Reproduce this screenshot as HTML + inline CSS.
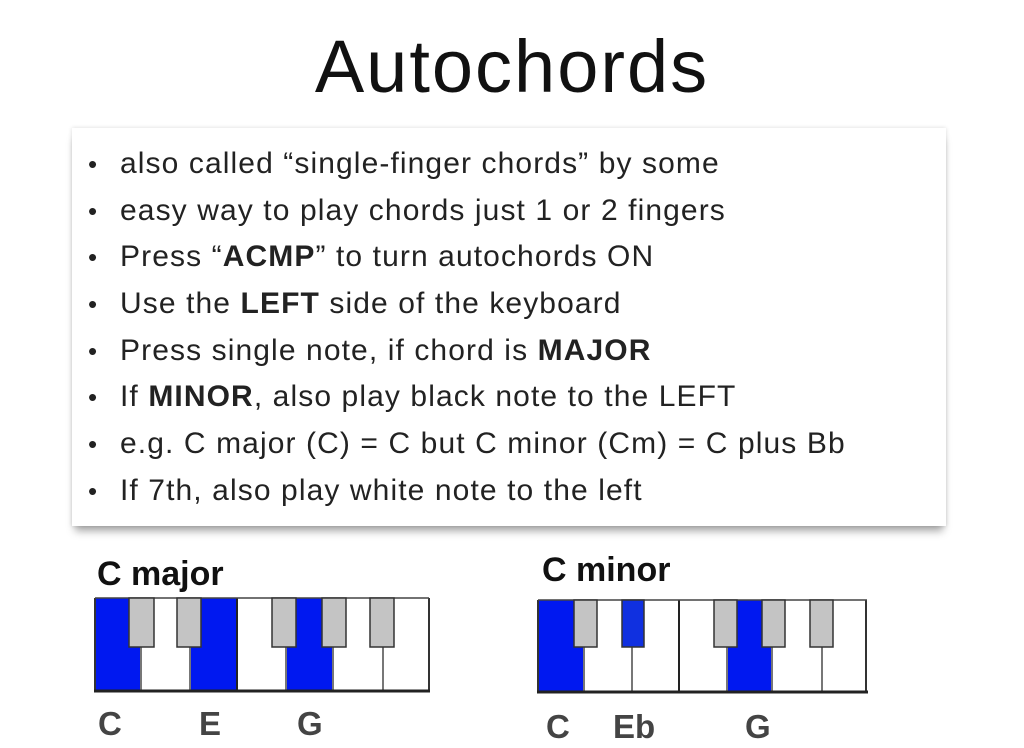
<!DOCTYPE html>
<html><head><meta charset="utf-8"><style>
body{margin:0;width:1024px;height:748px;background:#fff;position:relative;overflow:hidden;font-family:"Liberation Sans",sans-serif}
.title{position:absolute;left:0;width:1024px;top:22px;text-align:center;font-size:74px;letter-spacing:2px;color:#111;line-height:90px}
.box{position:absolute;left:72px;top:128px;width:874px;height:398px;background:#fff;box-shadow:0 8px 8px -3px rgba(0,0,0,0.35),0 0 4px rgba(0,0,0,0.15)}
.li{position:absolute;left:48px;font-size:30px;letter-spacing:1.1px;color:#222;white-space:nowrap;line-height:34px}
.li:before{content:"•";position:absolute;left:-32px;font-size:26px}
svg{position:absolute;left:0;top:0}
</style></head><body>
<div class="title">Autochords</div>
<div class="box">
<div class="li" style="top:19px">also called “single-finger chords” by some</div>
<div class="li" style="top:66px">easy way to play chords just 1 or 2 fingers</div>
<div class="li" style="top:112px">Press “<b>ACMP</b>” to turn autochords ON</div>
<div class="li" style="top:159px">Use the <b>LEFT</b> side of the keyboard</div>
<div class="li" style="top:206px">Press single note, if chord is <b>MAJOR</b></div>
<div class="li" style="top:252px">If <b>MINOR</b>, also play black note to the LEFT</div>
<div class="li" style="top:299px">e.g. C major (C) = C but C minor (Cm) = C plus Bb</div>
<div class="li" style="top:346px">If 7th, also play white note to the left</div>
</div>
<svg width="1024" height="748" font-family="Liberation Sans, sans-serif" font-weight="bold">
<text x="97" y="585" font-size="34" fill="#111">C major</text>
<text x="542" y="581" font-size="34" fill="#111">C minor</text>
<rect x="95" y="598" width="334" height="93" fill="#fff"/>
<polygon points="95,598 129,598 129,647 141,647 141,690 95,690" fill="#0018f0"/>
<polygon points="201,598 237,598 237,690 190,690 190,647 201,647" fill="#0018f0"/>
<polygon points="296,598 322,598 322,647 333,647 333,690 286,690 286,647 296,647" fill="#0018f0"/>
<g stroke="#777" stroke-width="2"><line x1="141" y1="647" x2="141" y2="690"/><line x1="190" y1="647" x2="190" y2="690"/><line x1="286" y1="647" x2="286" y2="690"/><line x1="333" y1="647" x2="333" y2="690"/><line x1="383" y1="647" x2="383" y2="690"/></g>
<line x1="237" y1="598" x2="237" y2="691" stroke="#222" stroke-width="2"/>
<line x1="95" y1="598" x2="95" y2="691" stroke="#333" stroke-width="2"/>
<line x1="429" y1="598" x2="429" y2="691" stroke="#333" stroke-width="2"/>
<line x1="95" y1="598" x2="429" y2="598" stroke="#444" stroke-width="1.5"/>
<line x1="94" y1="691" x2="430" y2="691" stroke="#222" stroke-width="3"/>
<g fill="#c4c4c4" stroke="#333" stroke-width="1.5">
<rect x="129" y="598" width="25" height="49"/><rect x="177" y="598" width="24" height="49"/><rect x="272" y="598" width="24" height="49"/><rect x="322" y="598" width="24" height="49"/><rect x="370" y="598" width="24" height="49"/></g>
<rect x="538" y="600" width="329" height="92" fill="#fff"/>
<polygon points="538,600 574,600 574,647 584,647 584,691 538,691" fill="#0018f0"/>
<polygon points="737,600 762,600 762,647 772,647 772,691 727,691 727,647 737,647" fill="#0018f0"/>
<g stroke="#777" stroke-width="2"><line x1="584" y1="647" x2="584" y2="691"/><line x1="632" y1="647" x2="632" y2="691"/><line x1="727" y1="647" x2="727" y2="691"/><line x1="772" y1="647" x2="772" y2="691"/><line x1="822" y1="647" x2="822" y2="691"/></g>
<line x1="679" y1="600" x2="679" y2="692" stroke="#222" stroke-width="2"/>
<line x1="538" y1="600" x2="538" y2="692" stroke="#333" stroke-width="2"/>
<line x1="866" y1="600" x2="866" y2="692" stroke="#333" stroke-width="2"/>
<line x1="538" y1="600" x2="867" y2="600" stroke="#444" stroke-width="1.5"/>
<line x1="537" y1="692" x2="868" y2="692" stroke="#222" stroke-width="3"/>
<g fill="#c4c4c4" stroke="#333" stroke-width="1.5">
<rect x="574" y="600" width="23" height="47"/><rect x="714" y="600" width="23" height="47"/><rect x="762" y="600" width="23" height="47"/><rect x="810" y="600" width="23" height="47"/></g>
<rect x="622" y="600" width="22" height="47" fill="#1030e0" stroke="#333" stroke-width="1.5"/>
<g font-size="33" fill="#444">
<text x="98" y="735">C</text><text x="199" y="735">E</text><text x="297" y="735">G</text>
<text x="546" y="738">C</text><text x="613" y="738">Eb</text><text x="745" y="738">G</text></g>
</svg>
</body></html>
